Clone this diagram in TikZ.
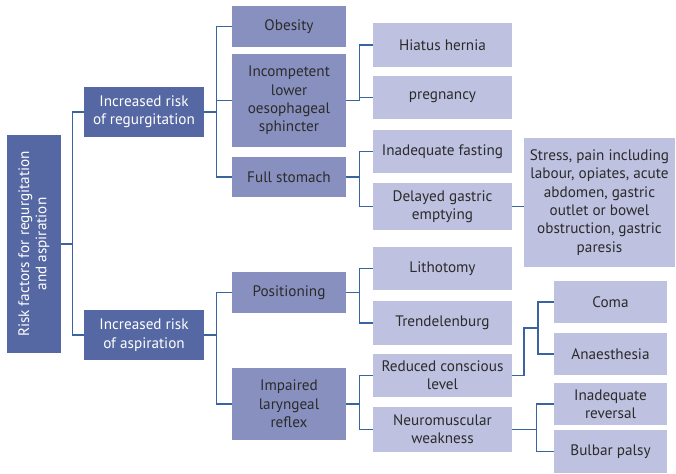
\documentclass[tikz,border=0pt]{standalone}
\usepackage{fontspec}
\setmainfont{PT Sans}
\begin{document}
\definecolor{boxdark}{HTML}{5568A3}
\definecolor{boxmid}{HTML}{8890C0}
\definecolor{boxlight}{HTML}{BEC1E0}
\definecolor{wire}{HTML}{3A64A0}
\definecolor{ink}{HTML}{2B2B2B}
\begin{tikzpicture}[x=1pt,y=-1pt,
  every node/.style={inner sep=1pt,align=center,font=\fontsize{15.2}{18.3}\selectfont},
  darkbox/.style={fill=boxdark,text=white},
  midbox/.style={fill=boxmid,text=ink},
  lightbox/.style={fill=boxlight,text=ink},
  sz/.style 2 args={minimum width=#1pt,minimum height=#2pt},
  link/.style={draw=wire,line width=1.3pt}]
\useasboundingbox (0,0) rectangle (676,473);

% root and first level
\node[darkbox,sz={54}{218}] (root) at (34,244) {\rotatebox{90}{\begin{tabular}{@{}c@{}}Risk factors for regurgitation\\[-1pt]and aspiration\end{tabular}}};
\node[darkbox,sz={120}{50}] (reg) at (144,112) {Increased risk\\of regurgitation};
\node[darkbox,sz={120}{50}] (asp) at (144,335) {Increased risk\\of aspiration};

% second level
\node[midbox,sz={114}{41}] (obes) at (289,26.5) {Obesity};
\node[midbox,sz={114}{93}] (incomp) at (289,100.5) {Incompetent\\lower\\oesophageal\\sphincter};
\node[midbox,sz={114}{40}] (full) at (289,177) {Full stomach};
\node[midbox,sz={114}{41}] (posit) at (289,292.5) {Positioning};
\node[midbox,sz={114}{72}] (impair) at (289,404) {Impaired\\laryngeal\\reflex};

% third level
\node[lightbox,sz={139}{44}] (hiatus) at (442.5,45) {Hiatus hernia};
\node[lightbox,sz={139}{43}] (preg) at (442.5,97.5) {pregnancy};
\node[lightbox,sz={139}{43}] (fast) at (442.5,151.5) {Inadequate fasting};
\node[lightbox,sz={139}{47}] (delay) at (442.5,206.5) {Delayed gastric\\emptying};
\node[lightbox,sz={139}{43}] (litho) at (442.5,268.5) {Lithotomy};
\node[lightbox,sz={139}{44}] (trend) at (442.5,323) {Trendelenburg};
\node[lightbox,sz={139}{43}] (consc) at (442.5,375.5) {Reduced conscious\\level};
\node[lightbox,sz={139}{45}] (neuro) at (442.5,429.5) {Neuromuscular\\weakness};

% fourth level
\node[lightbox,sz={151}{129}] (stress) at (599.5,202.5) {Stress, pain including\\labour, opiates, acute\\abdomen, gastric\\outlet or bowel\\obstruction, gastric\\paresis};
\node[lightbox,sz={113}{42}] (coma) at (610.5,302) {Coma};
\node[lightbox,sz={113}{42}] (anaes) at (610.5,354) {Anaesthesia};
\node[lightbox,sz={113}{42}] (rever) at (610.5,404) {Inadequate\\reversal};
\node[lightbox,sz={113}{43}] (bulb) at (610.5,451.5) {Bulbar palsy};

% connectors
\foreach \c in {reg,asp} \draw[link] (root.east) -- ++(11,0) |- (\c.west);
\foreach \c in {obes,incomp,full} \draw[link] (reg.east) -- ++(12,0) |- (\c.west);
\foreach \c in {posit,impair} \draw[link] (asp.east) -- ++(12,0) |- (\c.west);
\foreach \c in {hiatus,preg} \draw[link] (incomp.east) -- ++(13,0) |- (\c.west);
\foreach \c in {fast,delay} \draw[link] (full.east) -- ++(13,0) |- (\c.west);
\foreach \c in {litho,trend} \draw[link] (posit.east) -- ++(13,0) |- (\c.west);
\foreach \c in {consc,neuro} \draw[link] (impair.east) -- ++(13,0) |- (\c.west);
\draw[link] (delay.east) -- (delay.east -| stress.west);
\coordinate (cbend) at (524,328);
\foreach \c in {coma,anaes} \draw[link] (consc.east) -| (cbend) -- ++(14,0) |- (\c.west);
\foreach \c in {rever,bulb} \draw[link] (neuro.east) -- ++(24,0) |- (\c.west);
\end{tikzpicture}
\end{document}
